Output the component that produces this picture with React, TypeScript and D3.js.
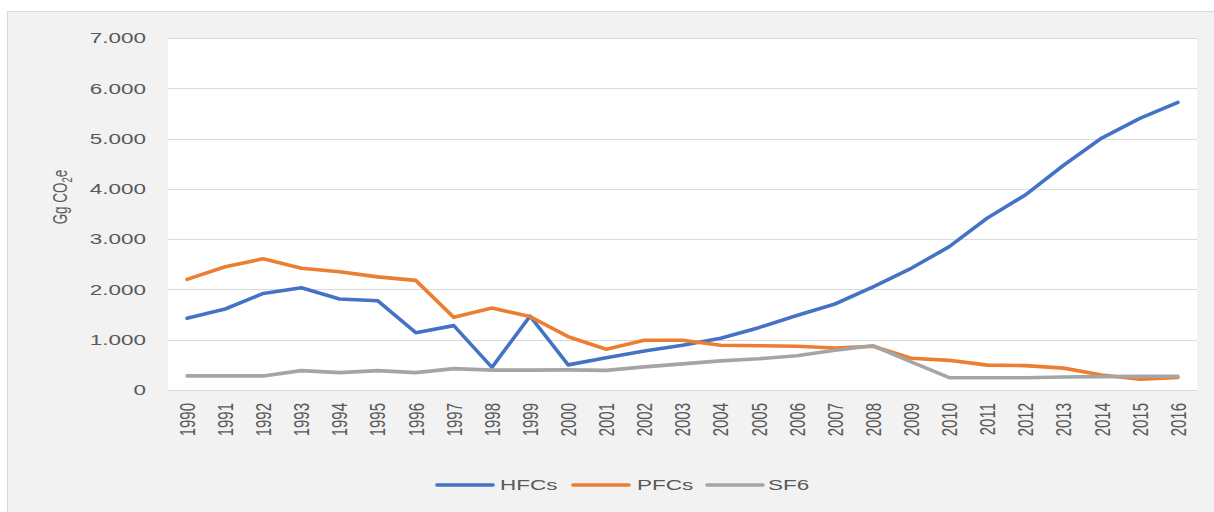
import React from "react";
import * as d3 from "d3";

const years = [
  "1990", "1991", "1992", "1993", "1994", "1995", "1996", "1997", "1998",
  "1999", "2000", "2001", "2002", "2003", "2004", "2005", "2006", "2007",
  "2008", "2009", "2010", "2011", "2012", "2013", "2014", "2015", "2016",
];

const hfcs = [
  1425, 1610, 1920, 2035, 1810, 1775, 1140, 1280, 450, 1470, 500, 640, 775,
  890, 1030, 1240, 1480, 1710, 2050, 2420, 2850, 3420, 3880, 4470, 5010, 5400, 5720,
];
const pfcs = [
  2200, 2450, 2610, 2420, 2350, 2250, 2180, 1445, 1630, 1460, 1060, 810, 990,
  990, 890, 880, 870, 835, 870, 630, 590, 495, 485, 435, 300, 215, 250,
];
const sf6 = [
  280, 280, 280, 385, 345, 385, 345, 425, 395, 395, 400, 390, 460, 520, 580,
  620, 680, 790, 880, 560, 245, 245, 245, 260, 265, 270, 270,
];

const yTicks = [0, 1000, 2000, 3000, 4000, 5000, 6000, 7000];

const series = [
  { name: "HFCs", values: hfcs, color: "#4472C4" },
  { name: "PFCs", values: pfcs, color: "#ED7D31" },
  { name: "SF6", values: sf6, color: "#A5A5A5" },
];

const W = 1214, H = 512;
const plot = { left: 168, right: 1197, top: 38, bottom: 390 };
const textColor = "#595959";
const font = "'Liberation Sans', Arial, sans-serif";
const stretch = 1.5; // the source picture is widened horizontally

const fmt = d3
  .formatLocale({ decimal: ",", thousands: ".", grouping: [3], currency: ["", ""] })
  .format(",");

export default function App() {
  const x = d3.scaleBand<string>().domain(years).range([plot.left, plot.right]);
  const cx = (d: string) => (x(d) as number) + x.bandwidth() / 2;
  const y = d3.scaleLinear().domain([0, 7000]).range([plot.bottom, plot.top]);

  const line = (vals: number[]) =>
    d3
      .line<number>()
      .x((_, i) => cx(years[i]))
      .y((v) => y(v))(vals) as string;

  const legend = [
    { lx: 437, tx: 500 },
    { lx: 573, tx: 637 },
    { lx: 707, tx: 768 },
  ];

  return (
    <div style={{ position: "absolute", left: 0, top: 0 }}>
      <svg width={W} height={H} style={{ display: "block", background: "#fff" }}>
        <rect x={7.5} y={11.5} width={W} height={H} fill="#f2f2f2" stroke="#d9d9d9" />
        <rect
          x={plot.left}
          y={plot.top}
          width={plot.right - plot.left}
          height={plot.bottom - plot.top}
          fill="#fff"
        />
        {yTicks.map((t) => (
          <g key={t}>
            <line
              x1={plot.left}
              x2={plot.right}
              y1={Math.round(y(t)) + 0.5}
              y2={Math.round(y(t)) + 0.5}
              stroke="#d9d9d9"
              strokeWidth={1.2}
            />
            <text
              transform={`translate(146,${y(t)}) scale(${stretch},1)`}
              textAnchor="end"
              dy="0.35em"
              fontFamily={font}
              fontSize={15}
              fill={textColor}
            >
              {fmt(t)}
            </text>
          </g>
        ))}
        {years.map((yr) => (
          <text
            key={yr}
            transform={`translate(${cx(yr)},403) scale(${stretch},1) rotate(-90)`}
            textAnchor="end"
            dy="0.35em"
            fontFamily={font}
            fontSize={15}
            fill={textColor}
          >
            {yr}
          </text>
        ))}
        <text
          transform={`translate(60,197) scale(${stretch},1) rotate(-90)`}
          textAnchor="middle"
          dy="0.35em"
          fontFamily={font}
          fontSize={13.5}
          fill={textColor}
        >
          Gg CO
          <tspan fontSize={9.5} dy="3">2</tspan>
          <tspan dy="-3">e</tspan>
        </text>
        {series.map((s) => (
          <path
            key={s.name}
            d={line(s.values)}
            fill="none"
            stroke={s.color}
            strokeWidth={3.6}
            strokeLinejoin="round"
            strokeLinecap="round"
          />
        ))}
        {series.map((s, i) => (
          <g key={s.name}>
            <line
              x1={legend[i].lx}
              x2={legend[i].lx + 56}
              y1={485}
              y2={485}
              stroke={s.color}
              strokeWidth={3.6}
              strokeLinecap="round"
            />
            <text
              transform={`translate(${legend[i].tx},485) scale(${stretch},1)`}
              dy="0.35em"
              fontFamily={font}
              fontSize={15}
              fill={textColor}
            >
              {s.name}
            </text>
          </g>
        ))}
      </svg>
    </div>
  );
}
